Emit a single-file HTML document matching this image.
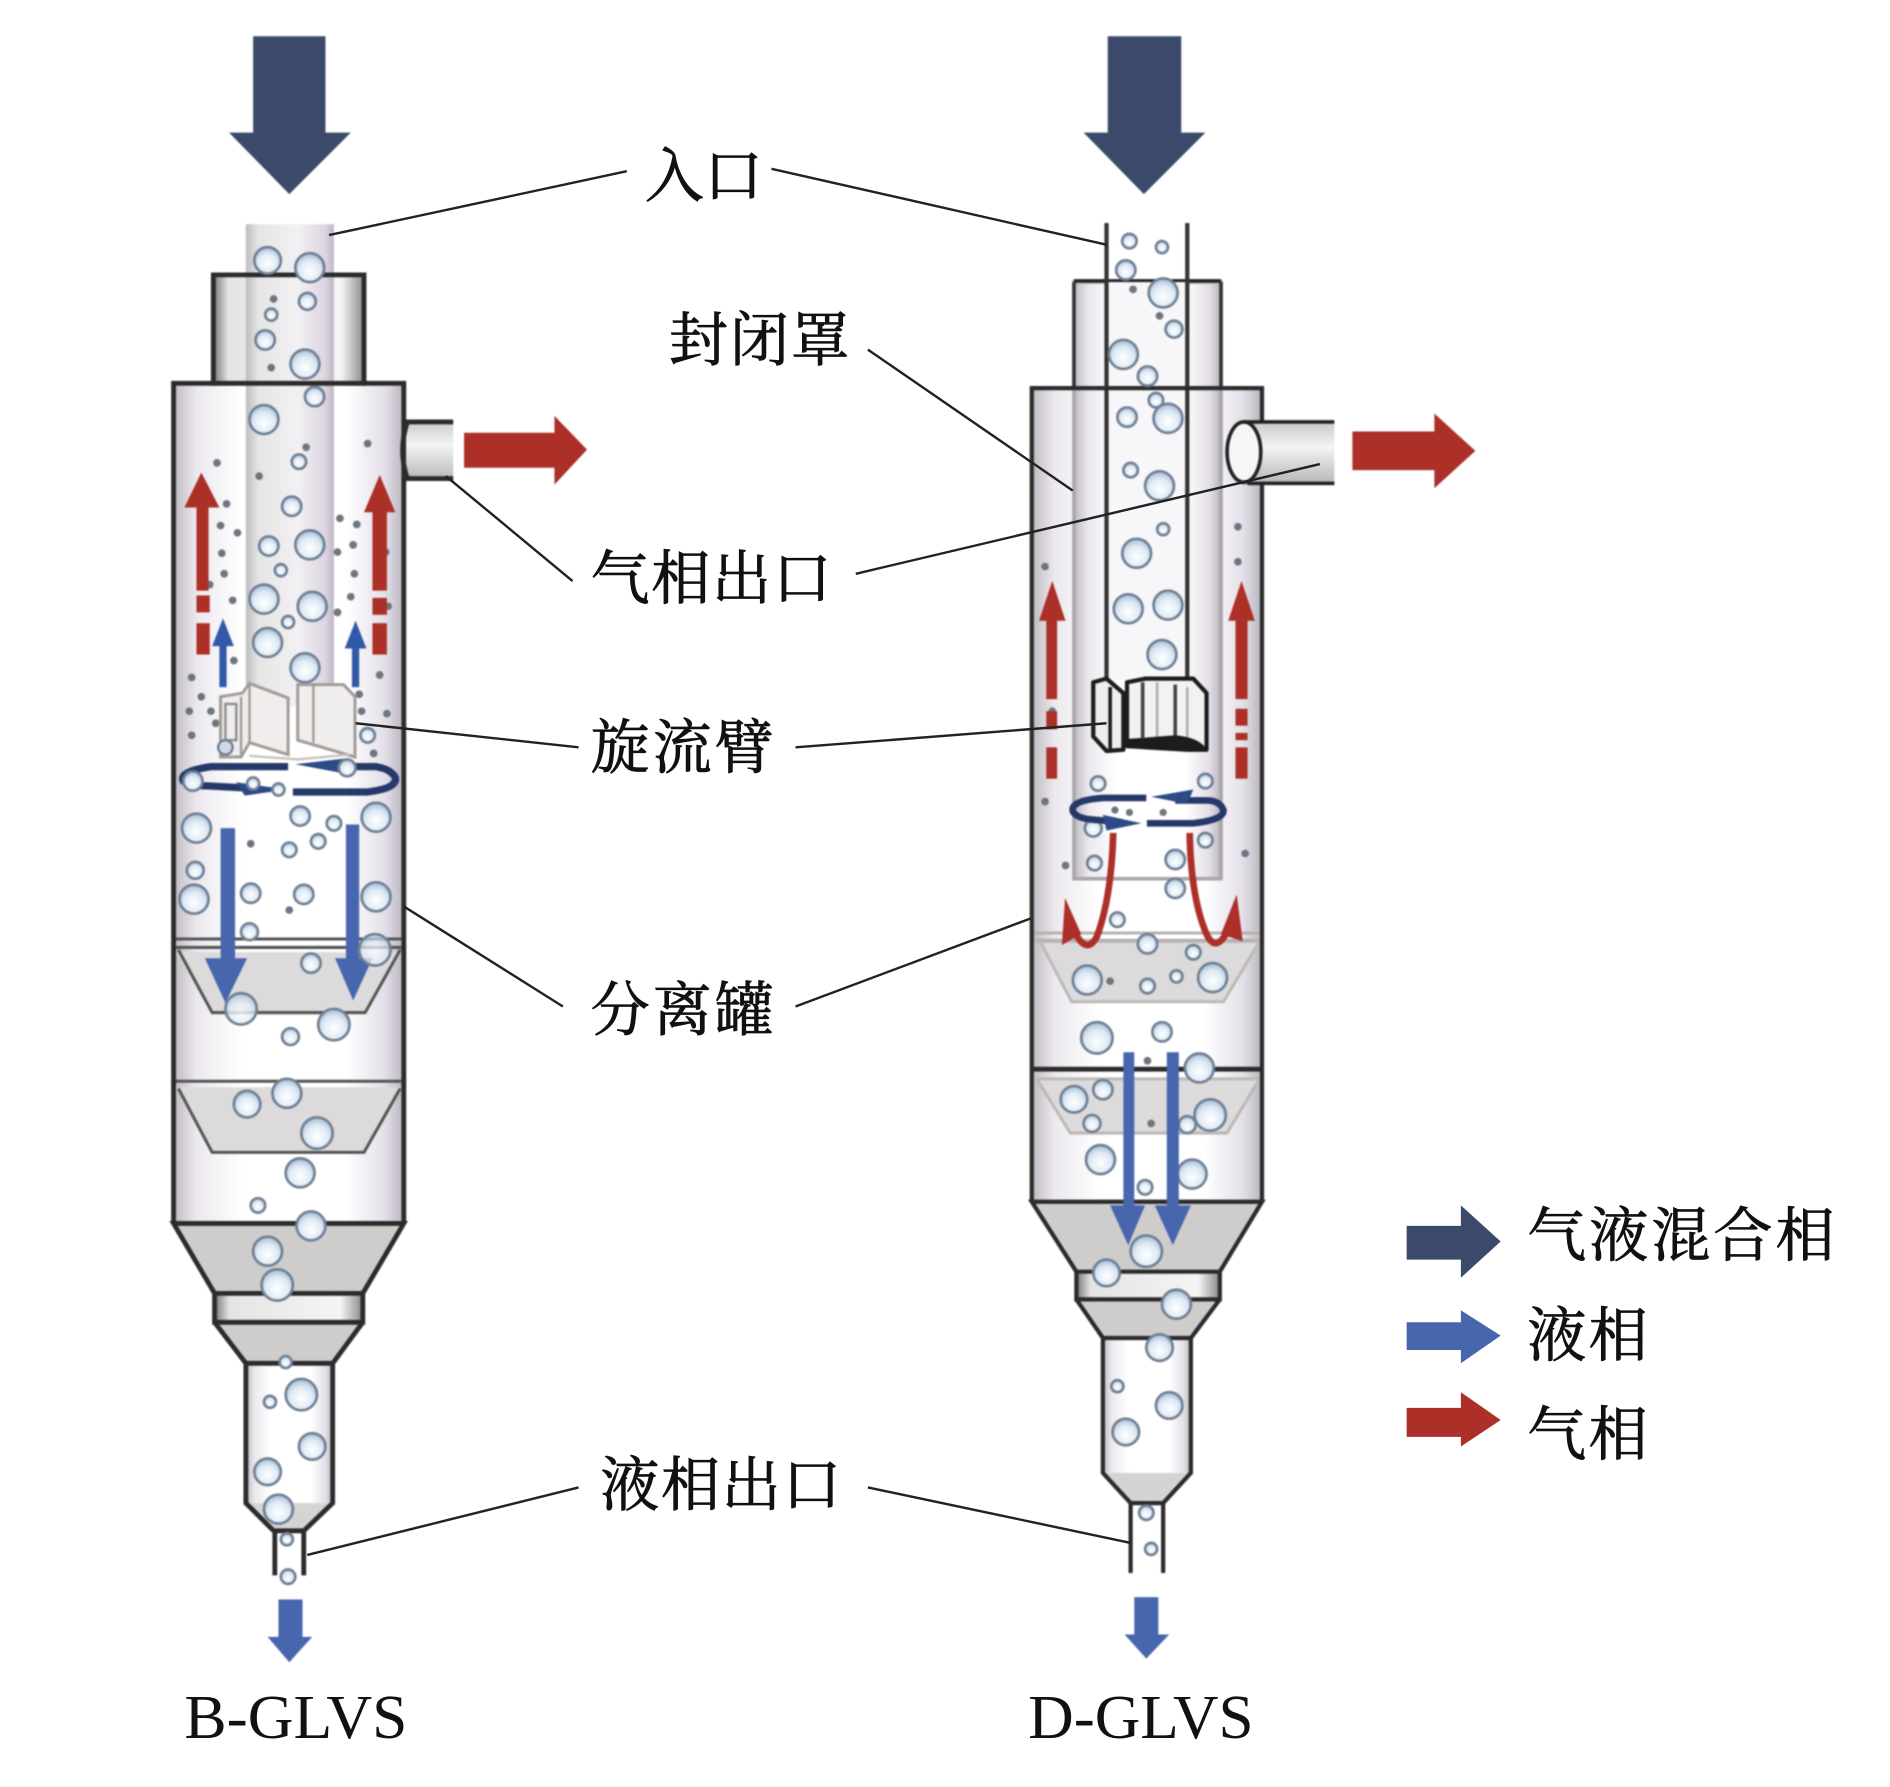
<!DOCTYPE html>
<html><head><meta charset="utf-8"><style>
html,body{margin:0;padding:0;background:#fff}
svg{display:block}
text.c{font-family:"Liberation Serif","Noto Serif CJK SC",serif;font-size:49px;fill:#111;stroke:#111;stroke-width:.7}
text.e{font-family:"Liberation Serif",serif;font-size:52px;fill:#111}
.l{stroke:#222;stroke-width:2;fill:none}
.k{stroke:#2b2b2b;fill:none;stroke-width:4}
.b{fill:url(#bub);stroke:#6f8094;stroke-width:2.2}
.d{fill:#6d7680}
.nv{fill:#3b4a6b}.bl{fill:#4766ae}.rd{fill:#ac2f28}
.dev{filter:blur(.6px)}
</style></head><body>
<svg xmlns="http://www.w3.org/2000/svg" width="1890" height="1787" viewBox="0 0 1568 1482.5">
<defs>
<radialGradient id="bub" cx="50%" cy="62%" r="60%"><stop offset="0" stop-color="#fff"/><stop offset=".6" stop-color="#dfeaf5"/><stop offset="1" stop-color="#a9bed6"/></radialGradient>
<linearGradient id="w" x1="0" x2="1" y1="0" y2="0"><stop offset="0" stop-color="#bdb9c0"/><stop offset=".1" stop-color="#ece9ee"/><stop offset=".3" stop-color="#fff"/><stop offset=".75" stop-color="#fff"/><stop offset=".92" stop-color="#e3dfe8"/><stop offset="1" stop-color="#b9b4be"/></linearGradient>
<linearGradient id="p" x1="0" x2="1" y1="0" y2="0"><stop offset="0" stop-color="#bdbbbc"/><stop offset=".14" stop-color="#e6e5e5"/><stop offset=".6" stop-color="#f2f0f3"/><stop offset=".9" stop-color="#dcd5e0"/><stop offset="1" stop-color="#bfb6c6"/></linearGradient>
<linearGradient id="c" x1="0" x2="1" y1="0" y2="0"><stop offset="0" stop-color="#777"/><stop offset=".1" stop-color="#e4e4e4"/><stop offset=".85" stop-color="#f4f4f4"/><stop offset="1" stop-color="#888"/></linearGradient>
<linearGradient id="o" x1="0" x2="0" y1="0" y2="1"><stop offset="0" stop-color="#c9c9c9"/><stop offset=".4" stop-color="#f4f4f4"/><stop offset="1" stop-color="#b5b5b5"/></linearGradient>
</defs>
<rect width="1568" height="1483" fill="#fff"/>

<!-- LEFT DEVICE -->
<g class="dev">
<polygon class="nv" points="210,30 270,30 270,110 291,110 240,161 190,110 210,110"/>
<rect x="144" y="320" width="191" height="695" fill="url(#w)"/>
<rect x="177" y="228" width="125" height="92" fill="url(#c)"/>
<rect x="204" y="186" width="73" height="400" fill="url(#p)"/>
<polygon points="146,790 333,790 303,842 176,842" fill="#dcdada"/>
<polygon points="146,902 333,902 302,956 176,956" fill="#dcdada"/>
<polygon points="144,1015 335,1015 301,1073 178,1073" fill="#cfcccc"/>
<rect x="178" y="1073" width="123" height="24" fill="url(#c)"/>
<polygon points="178,1097 301,1097 276,1131 204,1131" fill="#cfcccc"/>
<rect x="204" y="1131" width="72" height="116" fill="url(#w)"/>
<polygon points="204,1247 276,1247 252,1270 227,1270" fill="#d5d3d3"/>
<path class="k" d="M177,320V228H302V320"/>
<path class="k" d="M144,1015V318H335V1015"/>
<path class="k" style="stroke-width:2.5;stroke:#555" d="M146,779H333M146,786H333M148,788L176,840H303L332,788"/>
<path class="k" style="stroke-width:2.5;stroke:#555" d="M146,897H333M148,903L176,956H302L332,903"/>
<path class="k" d="M144,1015H335L301,1073H178L144,1015ZM178,1073V1097H301V1073M178,1097L204,1131H276L301,1097M204,1131V1247L227,1270M276,1131V1247L252,1270M227,1270H252M228,1270V1307M252,1270V1307"/>
<rect x="337" y="349" width="39" height="50" fill="url(#o)"/>
<path class="k" d="M376,350H338Q330,374 338,397H376"/>
<polygon class="rd" points="385,359 460,359 460,345 487,373 460,402 460,388 385,388"/>
<circle class="b" cx="222" cy="216" r="11"/><circle class="b" cx="257" cy="222" r="12"/><circle class="b" cx="255" cy="250" r="7"/><circle class="b" cx="225" cy="261" r="5"/><circle class="b" cx="220" cy="282" r="8"/><circle class="b" cx="253" cy="302" r="12"/><circle class="b" cx="261" cy="329" r="8"/><circle class="b" cx="219" cy="348" r="12"/><circle class="b" cx="248" cy="383" r="6"/><circle class="b" cx="242" cy="420" r="8"/><circle class="b" cx="223" cy="453" r="8"/><circle class="b" cx="257" cy="452" r="12"/><circle class="b" cx="233" cy="473" r="5"/><circle class="b" cx="219" cy="497" r="12"/><circle class="b" cx="259" cy="503" r="12"/><circle class="b" cx="239" cy="516" r="5"/><circle class="b" cx="222" cy="533" r="12"/><circle class="b" cx="253" cy="554" r="12"/>
<circle class="b" cx="163" cy="687" r="12"/><circle class="b" cx="162" cy="722" r="7"/><circle class="b" cx="161" cy="746" r="12"/><circle class="b" cx="208" cy="741" r="8"/><circle class="b" cx="207" cy="773" r="7"/><circle class="b" cx="252" cy="742" r="8"/><circle class="b" cx="240" cy="705" r="6"/><circle class="b" cx="249" cy="677" r="8"/><circle class="b" cx="277" cy="683" r="6"/><circle class="b" cx="264" cy="698" r="6"/><circle class="b" cx="312" cy="678" r="12"/><circle class="b" cx="312" cy="744" r="12"/><circle class="b" cx="258" cy="799" r="8"/><circle class="b" cx="241" cy="860" r="7"/><circle class="b" cx="205" cy="916" r="11"/><circle class="b" cx="238" cy="907" r="12"/><circle class="b" cx="263" cy="940" r="13"/><circle class="b" cx="249" cy="973" r="12"/><circle class="b" cx="214" cy="1000" r="6"/><circle class="b" cx="258" cy="1017" r="12"/><circle class="b" cx="222" cy="1038" r="12"/><circle class="b" cx="230" cy="1066" r="13"/><circle class="b" cx="237" cy="1130" r="5"/><circle class="b" cx="224" cy="1163" r="5"/><circle class="b" cx="250" cy="1157" r="13"/><circle class="b" cx="259" cy="1200" r="11"/><circle class="b" cx="222" cy="1221" r="11"/><circle class="b" cx="231" cy="1252" r="12"/><circle class="b" cx="238" cy="1277" r="5"/><circle class="b" cx="239" cy="1308" r="6"/>
<g class="d"><circle cx="227" cy="248" r="3.2"/><circle cx="225" cy="305" r="3.2"/><circle cx="254" cy="371" r="3.2"/><circle cx="215" cy="395" r="3.2"/><circle cx="180" cy="384" r="3.2"/><circle cx="305" cy="368" r="3.2"/><circle cx="188" cy="418" r="3.2"/><circle cx="183" cy="436" r="3.2"/><circle cx="197" cy="442" r="3.2"/><circle cx="184" cy="459" r="3.2"/><circle cx="186" cy="476" r="3.2"/><circle cx="174" cy="485" r="3.2"/><circle cx="193" cy="498" r="3.2"/><circle cx="282" cy="430" r="3.2"/><circle cx="296" cy="435" r="3.2"/><circle cx="293" cy="452" r="3.2"/><circle cx="280" cy="458" r="3.2"/><circle cx="294" cy="476" r="3.2"/><circle cx="291" cy="495" r="3.2"/><circle cx="280" cy="508" r="3.2"/><circle cx="320" cy="458" r="3.2"/><circle cx="322" cy="503" r="3.2"/><circle cx="194" cy="548" r="3.2"/><circle cx="159" cy="562" r="3.2"/><circle cx="167" cy="578" r="3.2"/><circle cx="157" cy="590" r="3.2"/><circle cx="175" cy="590" r="3.2"/><circle cx="179" cy="600" r="3.2"/><circle cx="159" cy="610" r="3.2"/><circle cx="315" cy="560" r="3.2"/><circle cx="298" cy="576" r="3.2"/><circle cx="321" cy="592" r="3.2"/><circle cx="300" cy="590" r="3.2"/><circle cx="310" cy="625" r="3.2"/><circle cx="208" cy="700" r="3.2"/><circle cx="240" cy="755" r="3.2"/><circle cx="291" cy="788" r="3.2"/></g>
<!-- swirl arm left -->
<path d="M201,575L207,567L239,579V626L207,616L200,628H183V578Z" fill="#f0edec" stroke="#a29c98" stroke-width="2.5"/>
<path d="M200,578V628M207,567V616" stroke="#a29c98" stroke-width="2" fill="none"/>
<rect x="187" y="584" width="9" height="30" fill="none" stroke="#8d8d90" stroke-width="2"/>
<circle cx="187" cy="620" r="6" fill="#cfdbe6" stroke="#6f8094" stroke-width="2"/>
<circle cx="305" cy="610" r="6" class="b"/>
<path d="M247,568H285L294.500,578V628L247,614Z" fill="#f1efee" stroke="#a29c98" stroke-width="2.5"/>
<path d="M260,568V616" stroke="#a29c98" stroke-width="2"/>
<path d="M207,627L247,630L290,626" fill="none" stroke="#c9c2ba" stroke-width="2"/>
<path d="M239,636H175Q148,640 152,648Q156,652 172,652L210,654" fill="none" stroke="#25386a" stroke-width="6"/>
<path d="M243,657H305Q330,654 328,645Q324,638 312,636H272" fill="none" stroke="#25386a" stroke-width="6"/>
<polygon points="245,634 288,629 282,641" fill="#2b4a86"/><polygon points="238,655 196,649 203,660" fill="#2b4a86"/>
<circle class="b" cx="288" cy="637" r="7"/><circle class="b" cx="160" cy="648" r="8"/><circle class="b" cx="210" cy="650" r="5"/><circle class="b" cx="231" cy="655" r="5"/>
<polygon class="rd" points="167,392 182,421 173,421 173,490 163,490 163,421 153,421"/><rect class="rd" x="163" y="494" width="11" height="14"/><rect class="rd" x="163" y="517" width="11" height="26"/>
<polygon class="rd" points="315,394 328,425 321,425 321,490 309,490 309,425 302,425"/><rect class="rd" x="309" y="496" width="12" height="14"/><rect class="rd" x="309" y="517" width="12" height="26"/>
<polygon style="fill:#3059a8" points="185,513 194,536 188,536 188,570 182,570 182,536 176,536"/>
<polygon style="fill:#3059a8" points="295,515 304,538 298,538 298,570 292,570 292,538 286,538"/>
<polygon class="bl" points="183,687 195,687 195,795 205,795 187,832 170,795 183,795"/>
<polygon class="bl" points="287,684 298,684 298,795 309,795 293,830 278,795 287,795"/>
<circle class="b" cx="311" cy="788" r="13" style="fill-opacity:.75"/><circle class="b" cx="200" cy="837" r="13" style="fill-opacity:.8"/><circle class="b" cx="277" cy="850" r="13"/>
<polygon class="bl" points="231,1327 251,1327 251,1358 259,1358 240,1379 222,1358 231,1358"/>
</g>

<!-- RIGHT DEVICE -->
<g class="dev">
<polygon class="nv" points="919,30 980,30 980,110 1000,110 949,161 899,110 919,110"/>
<rect x="856" y="322" width="191" height="675" fill="url(#w)"/>
<rect x="891" y="234" width="122" height="495" fill="url(#w)" stroke="#aaa6a8" stroke-width="3"/>
<path d="M891,234V322M1013,234V322" stroke="#333" stroke-width="3"/><path d="M891,233H1013" stroke="#222" stroke-width="3"/>
<rect x="918" y="234" width="67" height="330" fill="#f7f6f8"/>
<path d="M918,185V565M985,185V565" stroke="#333" stroke-width="3.5" fill="none"/>
<polygon points="863,781 1045,781 1015,831 889,831" fill="#dcdada" stroke="#bdb9b8" stroke-width="2.5" stroke-linejoin="round"/>
<path d="M857,774H1046M857,780H1046" stroke="#b5b1b1" stroke-width="2.5"/>
<polygon points="860,895 1045,895 1018,940 888,940" fill="#dcdada" stroke="#bdb9b8" stroke-width="2.5" stroke-linejoin="round"/>
<polygon points="856,997 1047,997 1012,1055 893,1055" fill="#cfcccc"/>
<rect x="893" y="1055" width="119" height="23" fill="url(#c)"/>
<polygon points="893,1078 1012,1078 988,1110 915,1110" fill="#cfcccc"/>
<rect x="915" y="1110" width="73" height="112" fill="url(#w)"/>
<polygon points="915,1222 988,1222 965,1247 938,1247" fill="#d5d3d3"/>
<path d="M856,997V322H1047V997" class="k" style="stroke-width:3.5"/>
<path d="M856,887H1047" class="k"/>
<path class="k" d="M856,997H1047L1012,1055H893L856,997ZM893,1055V1078H1012V1055M893,1078L915,1110H988L1012,1078M915,1110V1222L938,1247M988,1110V1222L965,1247M938,1247H965M938,1247V1305M965,1247V1305" style="stroke-width:3.5"/>
<rect x="1030" y="350" width="77" height="52" fill="url(#o)"/>
<ellipse cx="1032" cy="375" rx="14" ry="25" fill="#f6f6f6" stroke="#222" stroke-width="3"/>
<path d="M1032,350H1107M1035,401H1107" stroke="#222" stroke-width="3" fill="none"/>
<polygon class="rd" points="1122,358 1190,358 1190,343 1224,374 1190,405 1190,390 1122,390"/>
<circle class="b" cx="937" cy="200" r="6"/><circle class="b" cx="964" cy="205" r="5"/><circle class="b" cx="934" cy="224" r="8"/><circle class="b" cx="965" cy="243" r="12"/><circle class="b" cx="974" cy="273" r="7"/><circle class="b" cx="932" cy="294" r="12"/><circle class="b" cx="952" cy="312" r="8"/><circle class="b" cx="959" cy="332" r="6"/><circle class="b" cx="969" cy="347" r="12"/><circle class="b" cx="935" cy="346" r="8"/><circle class="b" cx="938" cy="390" r="6"/><circle class="b" cx="962" cy="403" r="12"/><circle class="b" cx="965" cy="439" r="5"/><circle class="b" cx="943" cy="459" r="12"/><circle class="b" cx="936" cy="505" r="12"/><circle class="b" cx="969" cy="502" r="12"/><circle class="b" cx="964" cy="543" r="12"/>
<circle class="b" cx="911" cy="650" r="6"/><circle class="b" cx="1000" cy="648" r="6"/><circle class="b" cx="907" cy="687" r="7"/><circle class="b" cx="975" cy="713" r="8"/><circle class="b" cx="908" cy="716" r="6"/><circle class="b" cx="975" cy="737" r="8"/><circle class="b" cx="1000" cy="697" r="6"/><circle class="b" cx="927" cy="763" r="6"/><circle class="b" cx="952" cy="783" r="8"/><circle class="b" cx="990" cy="790" r="6"/><circle class="b" cx="902" cy="813" r="12"/><circle class="b" cx="976" cy="810" r="5"/><circle class="b" cx="952" cy="818" r="6"/><circle class="b" cx="1006" cy="811" r="12"/><circle class="b" cx="910" cy="861" r="13"/><circle class="b" cx="964" cy="856" r="8"/><circle class="b" cx="995" cy="886" r="12"/><circle class="b" cx="891" cy="912" r="11"/><circle class="b" cx="915" cy="904" r="8"/><circle class="b" cx="906" cy="932" r="7"/><circle class="b" cx="1004" cy="925" r="13"/><circle class="b" cx="985" cy="933" r="7"/><circle class="b" cx="913" cy="962" r="12"/><circle class="b" cx="989" cy="974" r="12"/><circle class="b" cx="950" cy="985" r="6"/>
<g class="d"><circle cx="1027" cy="437" r="3.2"/><circle cx="1027" cy="466" r="3.2"/><circle cx="867" cy="470" r="3.2"/><circle cx="867" cy="665" r="3.2"/><circle cx="873" cy="590" r="3.2"/><circle cx="884" cy="718" r="3.2"/><circle cx="1033" cy="708" r="3.2"/><circle cx="940" cy="240" r="3.2"/><circle cx="962" cy="262" r="3.2"/><circle cx="955" cy="932" r="3.2"/><circle cx="952" cy="880" r="3.2"/><circle cx="921" cy="814" r="3.2"/><circle cx="925" cy="672" r="3"/><circle cx="937" cy="674" r="3"/><circle cx="965" cy="674" r="3"/></g>
<!-- swirl arm right -->
<path d="M907,566L918,563L932,575V622L918,623L907,611Z" fill="#eeeeee" stroke="#1c1c1c" stroke-width="3.5" stroke-linejoin="round"/>
<path d="M921,570V621" stroke="#1c1c1c" stroke-width="3"/>
<path d="M935,566L950,563H990L1001,575V622H985L935,619Z" fill="#f3f2f0" stroke="#1c1c1c" stroke-width="3.5" stroke-linejoin="round"/>
<path d="M948,566V612M975,568V612" stroke="#444" stroke-width="3"/><path d="M960,566V612M985,570V612" stroke="#aaa" stroke-width="2"/>
<path d="M936,618L936,613L975,610Q996,612 1001,622L985,623Z" fill="#1c1c1c"/>
<path d="M951,662H915Q888,664 890,673Q893,679 907,680L930,682" fill="none" stroke="#25386a" stroke-width="5.500"/>
<path d="M951.500,683H990Q1016,680 1015,672Q1012,664 1001,664H975" fill="none" stroke="#25386a" stroke-width="5.500"/>
<polygon points="955,661 990,655 985,667" fill="#2b4a86"/><polygon points="947,683 915,676 918,689" fill="#2b4a86"/>
<polygon class="rd" points="873,482 884,515 877,515 877,580 868,580 868,515 862,515"/><rect class="rd" x="868" y="590" width="9" height="15"/><rect class="rd" x="868" y="620" width="9" height="26"/>
<polygon class="rd" points="1030,482 1041,515 1035,515 1035,580 1025,580 1025,515 1019,515"/><rect class="rd" x="1025" y="588" width="10" height="14"/><rect class="rd" x="1025" y="608" width="10" height="6"/><rect class="rd" x="1025" y="620" width="10" height="26"/>
<path d="M923.600,691Q922,745 910,777Q903,790 895,779L889,770" fill="none" stroke="#ac2f28" stroke-width="5.500"/>
<polygon class="rd" points="883.600,745 881,784 897,775"/>
<path d="M987,691Q988,745 1001,775Q1008,790 1017,775" fill="none" stroke="#ac2f28" stroke-width="5.500"/>
<polygon class="rd" points="1026,742 1031,781 1013,775"/>
<polygon class="bl" points="932,873 941,873 941,1000 950,1000 936,1033 921,1000 932,1000"/>
<polygon class="bl" points="968,873 978,873 978,1000 988,1000 973,1033 958,1000 968,1000"/>
<circle class="b" cx="951" cy="1038" r="13"/><circle class="b" cx="918" cy="1056" r="11"/><circle class="b" cx="976" cy="1082" r="12"/><circle class="b" cx="962" cy="1118" r="11"/><circle class="b" cx="927" cy="1150" r="5"/><circle class="b" cx="970" cy="1166" r="11"/><circle class="b" cx="934" cy="1188" r="11"/><circle class="b" cx="951" cy="1255" r="6"/><circle class="b" cx="955" cy="1285" r="5"/>
<polygon class="bl" points="941,1325 961,1325 961,1356 970,1356 951,1376 933,1356 941,1356"/>
</g>

<!-- leaders -->
<path class="l" d="M273,195L520,142M640,140L918,203M720,290L890,407M370,395L475,482M710,476L1095,385M295,600L480,620M660,620L918,600M335,752L467,835M660,835L855,762M480,1234L255,1290M720,1234L938,1280"/>

<!-- labels -->
<text class="c" x="535" y="163" textLength="98">入口</text>
<text class="c" x="555" y="299" textLength="150">封闭罩</text>
<text class="c" x="490" y="497" textLength="200">气相出口</text>
<text class="c" x="490" y="637" textLength="152">旋流臂</text>
<text class="c" x="490" y="855" textLength="152">分离罐</text>
<text class="c" x="498" y="1249" textLength="200">液相出口</text>
<text class="c" x="1267" y="1042" textLength="255">气液混合相</text>
<text class="c" x="1267" y="1125" textLength="100">液相</text>
<text class="c" x="1267" y="1207" textLength="100">气相</text>
<text class="e" x="153" y="1442" textLength="185" lengthAdjust="spacingAndGlyphs">B-GLVS</text>
<text class="e" x="853" y="1442" textLength="187" lengthAdjust="spacingAndGlyphs">D-GLVS</text>

<!-- legend arrows -->
<polygon class="nv" points="1167,1017 1212,1017 1212,1000 1245,1030 1212,1060 1212,1045 1167,1045"/>
<polygon class="bl" points="1167,1097 1212,1097 1212,1087 1245,1108 1212,1131 1212,1120 1167,1120"/>
<polygon class="rd" points="1167,1168 1212,1168 1212,1155 1245,1178 1212,1200 1212,1192 1167,1192"/>
</svg>
</body></html>
